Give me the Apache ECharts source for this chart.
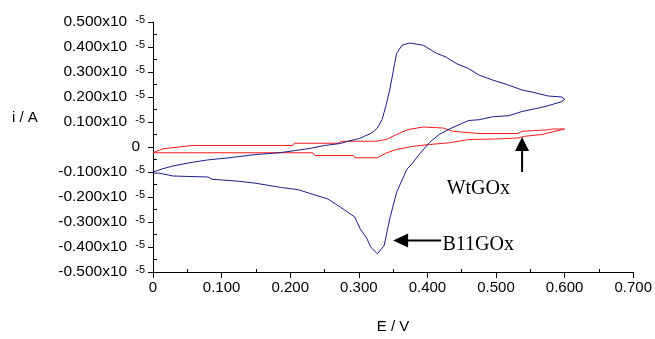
<!DOCTYPE html>
<html><head><meta charset="utf-8">
<script src="https://cdn.jsdelivr.net/npm/echarts@6/dist/echarts.min.js"></script>
<style>html,body{margin:0;padding:0;background:#fff}#c{width:655px;height:339px}</style>
</head><body><div id="c"></div>
<script>
// B11GOx cyclic voltammogram (E in V, i in units of 1e-5 A)
const E_B11 = [0.000,0.014,0.029,0.053,0.079,0.111,0.150,0.184,0.208,0.230,0.250,0.273,0.284,0.301,0.308,0.316,0.322,0.327,0.334,0.340,0.345,0.350,0.355,0.363,0.374,0.394,0.413,0.427,0.442,0.460,0.475,0.495,0.518,0.538,0.557,0.576,0.596,0.600,
  0.596,0.576,0.557,0.538,0.518,0.495,0.475,0.460,0.446,0.432,0.417,0.403,0.388,0.377,0.370,0.355,0.345,0.337,0.327,0.317,0.312,0.302,0.294,0.273,0.255,0.236,0.212,0.187,0.150,0.125,0.086,0.080,0.029,0.010,0.000,0.000];
const I_B11 = [-0.100,-0.087,-0.076,-0.063,-0.052,-0.043,-0.030,-0.023,-0.014,-0.005,0.006,0.014,0.023,0.034,0.043,0.052,0.063,0.076,0.110,0.170,0.228,0.300,0.374,0.407,0.416,0.407,0.375,0.360,0.334,0.314,0.288,0.268,0.248,0.228,0.217,0.204,0.200,0.191,
  0.182,0.165,0.153,0.142,0.125,0.121,0.109,0.106,0.089,0.072,0.050,0.018,-0.030,-0.069,-0.089,-0.182,-0.288,-0.394,-0.427,-0.399,-0.367,-0.327,-0.280,-0.240,-0.208,-0.192,-0.171,-0.162,-0.145,-0.137,-0.129,-0.120,-0.116,-0.105,-0.104,-0.100];
// WtGOx cyclic voltammogram
const E_Wt = [0.000,0.014,0.058,0.204,0.206,0.270,0.275,0.325,0.340,0.355,0.372,0.394,0.423,0.437,0.475,0.532,0.538,0.576,0.582,0.600,
  0.586,0.567,0.542,0.532,0.499,0.460,0.432,0.403,0.380,0.355,0.341,0.327,0.294,0.292,0.236,0.233,0.000];
const I_Wt = [-0.023,-0.007,0.006,0.006,0.015,0.015,0.023,0.023,0.030,0.050,0.070,0.080,0.076,0.063,0.054,0.054,0.063,0.069,0.072,0.072,
  0.063,0.050,0.043,0.036,0.032,0.030,0.017,0.010,0.003,-0.010,-0.023,-0.043,-0.043,-0.034,-0.034,-0.023,-0.023];
const xTicks = [0,0.1,0.2,0.3,0.4,0.5,0.6,0.7];
const yTicks = [-0.5,-0.4,-0.3,-0.2,-0.1,0,0.1,0.2,0.3,0.4,0.5];
const seriesNames = ['B11GOx','WtGOx'];

const FONT = "'Liberation Sans', Arial, sans-serif";
const SERIF = "'Liberation Serif', 'Times New Roman', serif";
const chart = echarts.init(document.getElementById('c'), null, {renderer:'canvas'});
const zip = (a,b)=>a.map((v,k)=>[v,b[k]]);
const yFmt = v => {
  if (Math.abs(v) < 1e-9) return '{z|0}';
  return '{m|' + (v<0?'-':'') + Math.abs(v).toFixed(3) + 'x10}{s|-5}';
};
const yMin = yTicks[0], yMax = yTicks[yTicks.length-1];
const xMin = xTicks[0], xMax = xTicks[xTicks.length-1];
const tickStyle = {color:'#000',width:1};
chart.setOption({
  animation:false,
  backgroundColor:'#fff',
  grid:{left:153,right:16,top:22,bottom:66,containLabel:false},
  xAxis:[{type:'value',min:xMin,max:xMax,interval:0.1,position:'bottom',
    name:'E / V',nameLocation:'middle',nameGap:47,
    nameTextStyle:{fontFamily:FONT,fontSize:15,color:'#000'},
    axisLine:{onZero:false,lineStyle:{color:'#000',width:1}},
    axisTick:{inside:false,length:6,lineStyle:tickStyle},
    minorTick:{show:false},
    splitLine:{show:false},
    axisLabel:{margin:8,fontFamily:FONT,fontSize:15,color:'#000',
      formatter:v=>Math.abs(v)<1e-9?'0':v.toFixed(3)}},
   {type:'value',min:xMin,max:xMax,interval:0.1,position:'bottom',
    axisLine:{show:false,onZero:false},
    axisTick:{show:false,inside:true},
    minorTick:{show:true,splitNumber:2,length:3,lineStyle:tickStyle},
    splitLine:{show:false},axisLabel:{show:false}}],
  yAxis:[{type:'value',min:yMin,max:yMax,interval:0.1,position:'left',
    axisLine:{show:true,onZero:false,lineStyle:{color:'#000',width:1}},
    axisTick:{show:true,inside:false,length:5,lineStyle:tickStyle},
    minorTick:{show:false},
    splitLine:{show:false},
    axisLabel:{margin:8,color:'#000',formatter:yFmt,
      rich:{m:{fontFamily:FONT,fontSize:15.5,lineHeight:16,verticalAlign:'bottom',color:'#000'},
            s:{fontFamily:FONT,fontSize:11,lineHeight:11,verticalAlign:'top',padding:[0,0,9,8],color:'#000'},
            z:{fontFamily:FONT,fontSize:15.5,padding:[0,5,0,0],color:'#000'}}}},
   {type:'value',min:yMin,max:yMax,interval:0.1,position:'left',
    axisLine:{show:false,onZero:false},
    axisTick:{show:false,inside:true},
    minorTick:{show:true,splitNumber:2,length:4,lineStyle:tickStyle},
    splitLine:{show:false},axisLabel:{show:false}}],
  series:[
    {name:seriesNames[1],type:'line',data:zip(E_Wt,I_Wt),showSymbol:false,symbol:'none',
     lineStyle:{color:'#ff1a1a',width:1},z:3},
    {name:seriesNames[0],type:'line',data:zip(E_B11,I_B11),showSymbol:false,symbol:'none',
     lineStyle:{color:'#1c1c8a',width:1},z:4}
  ]
});

// annotations (data coordinates)
const P = c => chart.convertToPixel({xAxisIndex:0,yAxisIndex:0}, c);
const upTail = P([0.538,-0.100]), upTip = P([0.538,0.040]);
const lfTail = P([0.420,-0.374]), lfTip = P([0.350,-0.374]);
const wtPos = P([0.428,-0.168]), b11Pos = P([0.422,-0.390]);
const yNamePos = [12, 118];
chart.setOption({graphic:[
  {type:'line',shape:{x1:upTail[0],y1:upTail[1],x2:upTip[0],y2:upTip[1]+12},style:{stroke:'#000',lineWidth:2}},
  {type:'polygon',shape:{points:[[upTip[0],upTip[1]],[upTip[0]-7,upTip[1]+14],[upTip[0]+7,upTip[1]+14]]},style:{fill:'#000'}},
  {type:'line',shape:{x1:lfTail[0],y1:lfTail[1],x2:lfTip[0]+12,y2:lfTip[1]},style:{stroke:'#000',lineWidth:2}},
  {type:'polygon',shape:{points:[[lfTip[0],lfTip[1]],[lfTip[0]+15,lfTip[1]-7],[lfTip[0]+15,lfTip[1]+7]]},style:{fill:'#000'}},
  {type:'text',x:wtPos[0],y:wtPos[1],style:{text:seriesNames[1],font:"20px "+SERIF,fill:'#000',verticalAlign:'middle'}},
  {type:'text',x:b11Pos[0],y:b11Pos[1],style:{text:seriesNames[0],font:"20px "+SERIF,fill:'#000',verticalAlign:'middle'}},
  {type:'text',x:yNamePos[0],y:yNamePos[1],style:{text:'i / A',font:"15px "+FONT,fill:'#000',verticalAlign:'middle'}}
]});
</script></body></html>
